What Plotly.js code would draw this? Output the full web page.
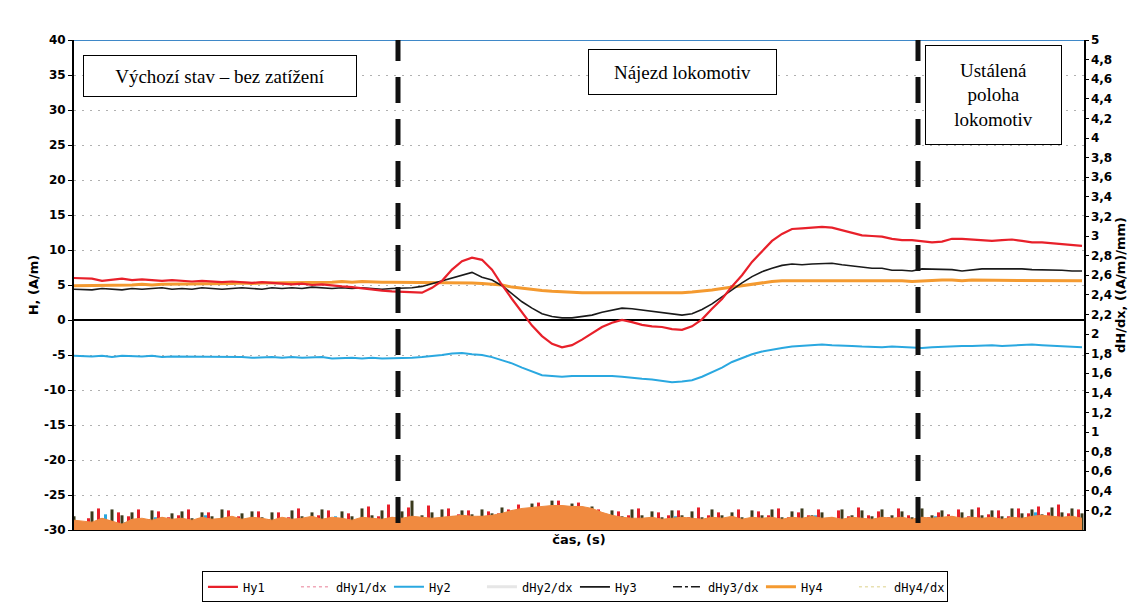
<!DOCTYPE html>
<html>
<head>
<meta charset="utf-8">
<script src="https://cdn.plot.ly/plotly-3.0.1.min.js"></script>
<style>html,body{margin:0;padding:0;background:#fff;}#chart{width:1141px;height:602px;}</style>
</head>
<body>
<div id="chart"></div>
<script>
// time axis (arbitrary units, no tick labels in the original)
const time = [-8,10,20,30,40,50,60,70,80,90,100,110,120,130,140,150,160,170,180,190,200,210,220,230,240,250,260,270,280,290,300,310,320,330,340,350,360,370,380,390,400,410,420,430,440,450,460,470,480,490,500,510,520,530,540,550,560,570,580,590,600,610,620,630,640,650,660,670,680,690,700,710,720,730,740,750,760,770,780,790,800,810,820,830,840,850,860,870,880,890,900,910,920,930,940,950,960,970,980,990,1000];

const hy1 = [6.0,5.9,5.6,5.8,5.9,5.7,5.8,5.7,5.6,5.7,5.6,5.5,5.6,5.5,5.4,5.5,5.4,5.3,5.4,5.3,5.2,5.1,5.2,5.0,5.1,4.9,4.8,4.7,4.5,4.4,4.2,
4.1,4.0,4.0,3.9,4.6,5.6,7.2,8.4,8.9,8.6,7.2,5.0,3.0,1.1,-0.8,-2.3,-3.4,-3.9,-3.6,-2.8,-1.9,-1.0,-0.4,0.0,-0.3,-0.7,-0.9,-1.0,-1.3,-1.4,-0.9,0.1,1.6,3.0,4.8,6.4,8.3,9.8,11.3,12.3,13.0,13.1,13.2,13.3,13.2,12.8,12.4,12.1,12.0,11.9,11.6,11.4,11.4,11.3,11.1,11.2,11.6,11.6,11.5,11.5,11.3,11.4,11.5,11.3,11.1,11.1,11.0,10.9,10.8,10.6];

const hy2 = [-5.1,-5.2,-5.1,-5.3,-5.1,-5.2,-5.2,-5.1,-5.3,-5.2,-5.2,-5.3,-5.2,-5.3,-5.3,-5.2,-5.3,-5.4,-5.3,-5.3,-5.4,-5.3,-5.4,-5.4,-5.3,-5.5,-5.4,-5.4,-5.5,-5.4,-5.5,
-5.5,-5.5,-5.4,-5.3,-5.2,-5.0,-4.8,-4.7,-4.9,-5.0,-5.3,-5.7,-6.2,-6.8,-7.4,-7.9,-8.0,-8.1,-8.0,-8.0,-7.9,-8.0,-8.0,-8.1,-8.3,-8.4,-8.5,-8.7,-8.9,-8.8,-8.6,-8.1,-7.5,-6.8,-6.0,-5.4,-4.9,-4.5,-4.2,-4.0,-3.8,-3.7,-3.6,-3.5,-3.6,-3.6,-3.7,-3.8,-3.9,-3.9,-3.8,-3.9,-3.9,-4.0,-3.9,-3.8,-3.8,-3.7,-3.7,-3.6,-3.6,-3.7,-3.6,-3.5,-3.5,-3.6,-3.7,-3.8,-3.8,-3.9];

const hy3 = [4.4,4.3,4.5,4.4,4.3,4.5,4.4,4.5,4.6,4.4,4.5,4.4,4.6,4.5,4.4,4.5,4.6,4.5,4.4,4.6,4.5,4.6,4.5,4.7,4.6,4.5,4.6,4.5,4.6,4.5,4.4,
4.5,4.5,4.6,4.8,5.2,5.6,6.1,6.5,6.8,6.1,5.7,4.9,3.8,2.6,1.7,0.9,0.5,0.3,0.3,0.5,0.7,1.1,1.4,1.7,1.6,1.4,1.2,1.0,0.8,0.7,0.9,1.5,2.3,3.3,4.4,5.3,6.2,6.9,7.4,7.8,8.0,7.9,8.0,8.1,8.1,7.9,7.7,7.6,7.4,7.4,7.1,7.1,7.0,7.3,7.3,7.2,7.2,7.0,7.2,7.3,7.3,7.3,7.4,7.3,7.2,7.2,7.1,7.1,7.0,7.0];

const hy4 = [4.9,4.9,5.0,4.9,5.0,5.0,5.1,5.0,5.1,5.1,5.1,5.2,5.1,5.2,5.2,5.2,5.3,5.2,5.3,5.3,5.3,5.4,5.3,5.4,5.4,5.4,5.5,5.4,5.5,5.4,5.4,
5.4,5.4,5.4,5.4,5.4,5.4,5.3,5.3,5.3,5.2,5.1,5.0,4.7,4.5,4.3,4.2,4.1,4.0,4.0,3.9,3.9,3.9,3.9,3.9,3.9,3.9,3.8,3.9,3.8,3.9,4.0,4.1,4.3,4.5,4.7,4.9,5.2,5.4,5.5,5.6,5.6,5.7,5.7,5.6,5.7,5.6,5.6,5.7,5.6,5.6,5.6,5.6,5.5,5.6,5.6,5.7,5.7,5.6,5.7,5.7,5.6,5.7,5.6,5.6,5.7,5.7,5.7,5.6,5.6,5.6];

// derivatives (right axis)
const dhy1 = [0.2,0.12,0.22,0.1,0.18,0.14,0.21,0.11,0.19,0.13,0.15,0.21,0.12,0.18,0.1,0.2,0.14,0.12,0.19,0.11,0.18,0.13,0.22,0.1,0.15,0.2,0.12,0.17,0.11,0.24,0.14,0.26,0.15,0.23,0.13,0.25,0.12,0.22,0.16,0.2,0.14,0.19,0.17,0.21,0.26,0.2,0.28,0.22,0.3,0.24,0.28,0.2,0.21,0.14,0.19,0.15,0.22,0.12,0.18,0.15,0.2,0.13,0.23,0.15,0.18,0.12,0.21,0.11,0.19,0.15,0.22,0.13,0.18,0.15,0.21,0.12,0.2,0.14,0.23,0.15,0.19,0.13,0.22,0.15,0.2,0.13,0.18,0.16,0.21,0.14,0.23,0.16,0.2,0.14,0.22,0.17,0.24,0.18,0.26,0.17,0.21];
const dhy2 = [0.03,0.06,0.16,0.04,0.08,0.03,0.05,0.13,0.04,0.06,0.03,0.05,0.15,0.04,0.03,0.07,0.04,0.12,0.03,0.05,0.04,0.08,0.03,0.06,0.04,0.14,0.03,0.05,0.04,0.07,0.03,0.06,0.04,0.12,0.03,0.05,0.04,0.08,0.03,0.06,0.05,0.13,0.06,0.1,0.08,0.16,0.09,0.11,0.08,0.1,0.07,0.12,0.05,0.07,0.04,0.08,0.03,0.06,0.04,0.14,0.03,0.05,0.04,0.07,0.03,0.13,0.04,0.05,0.03,0.08,0.04,0.06,0.03,0.15,0.04,0.05,0.03,0.07,0.04,0.06,0.03,0.12,0.04,0.05,0.03,0.14,0.04,0.06,0.03,0.05,0.04,0.12,0.03,0.06,0.04,0.18,0.03,0.05,0.04,0.07,0.04];
const dhy3 = [0.14,0.19,0.12,0.21,0.15,0.18,0.11,0.2,0.13,0.17,0.19,0.12,0.18,0.14,0.21,0.12,0.17,0.19,0.13,0.18,0.11,0.2,0.14,0.18,0.21,0.12,0.19,0.14,0.22,0.15,0.2,0.13,0.19,0.3,0.15,0.18,0.21,0.14,0.2,0.16,0.21,0.17,0.23,0.2,0.2,0.27,0.22,0.3,0.24,0.27,0.22,0.24,0.17,0.2,0.14,0.21,0.15,0.19,0.13,0.2,0.15,0.19,0.13,0.21,0.15,0.18,0.13,0.2,0.15,0.21,0.13,0.19,0.22,0.15,0.18,0.13,0.21,0.15,0.2,0.14,0.21,0.15,0.19,0.13,0.22,0.15,0.2,0.14,0.18,0.21,0.15,0.2,0.14,0.22,0.17,0.21,0.16,0.23,0.18,0.22,0.17];
const dhy4 = [0.1,0.08,0.12,0.09,0.06,0.11,0.12,0.1,0.13,0.11,0.12,0.1,0.13,0.11,0.12,0.14,0.11,0.13,0.12,0.1,0.13,0.11,0.12,0.14,0.11,0.13,0.12,0.1,0.13,0.12,0.11,0.13,0.12,0.14,0.13,0.12,0.13,0.14,0.15,0.14,0.14,0.15,0.17,0.2,0.22,0.23,0.24,0.25,0.25,0.24,0.24,0.22,0.18,0.15,0.13,0.12,0.12,0.13,0.11,0.12,0.13,0.12,0.11,0.13,0.12,0.14,0.11,0.13,0.12,0.13,0.11,0.13,0.12,0.14,0.12,0.13,0.11,0.13,0.12,0.11,0.13,0.12,0.13,0.11,0.13,0.12,0.13,0.14,0.12,0.13,0.12,0.13,0.11,0.13,0.12,0.14,0.15,0.14,0.13,0.14,0.12];

const leftTicks = [-30,-25,-20,-15,-10,-5,0,5,10,15,20,25,30,35,40];
const leftTickText = ['-30','-25','-20','-15','-10','-5','0','5','10','15','20','25','30','35','40'];
const rightTickVals = [0.2,0.4,0.6,0.8,1,1.2,1.4,1.6,1.8,2,2.2,2.4,2.6,2.8,3,3.2,3.4,3.6,3.8,4,4.2,4.4,4.6,4.8,5];
const rightTickText = ['0,2','0,4','0,6','0,8','1','1,2','1,4','1,6','1,8','2','2,2','2,4','2,6','2,8','3','3,2','3,4','3,6','3,8','4','4,2','4,4','4,6','4,8','5'];
const phaseMarks = [316, 836];
const seriesNames = ['Hy1','dHy1/dx','Hy2','dHy2/dx','Hy3','dHy3/dx','Hy4','dHy4/dx'];

const traces = [
  {type:'bar', x: time, y: dhy1, yaxis:'y2', width:3, offset:-5, marker:{color:'#e8202a', line:{width:0}}, showlegend:false},
  {type:'bar', x: time, y: dhy3, yaxis:'y2', width:3, offset:-1.5, marker:{color:'#3a3a1c', line:{width:0}}, showlegend:false},
  {type:'bar', x: time, y: dhy2, yaxis:'y2', width:3, offset:2, marker:{color:'#2aa8e0', line:{width:0}}, showlegend:false},
  {x: time, y: dhy4, yaxis:'y2', mode:'lines', fill:'tozeroy', line:{color:'#f08a40', width:1}, fillcolor:'#f08a40', showlegend:false},
  {x: time, y: hy4, name: seriesNames[6], legendrank: 7, mode:'lines', line:{color:'#f49a30', width:3}},
  {x: time, y: hy2, name: seriesNames[2], legendrank: 3, mode:'lines', line:{color:'#2aa8e0', width:2}},
  {x: time, y: hy3, name: seriesNames[4], legendrank: 5, mode:'lines', line:{color:'#1a1a1a', width:1.6}},
  {x: time, y: hy1, name: seriesNames[0], legendrank: 1, mode:'lines', line:{color:'#e8202a', width:2.2}},
  {x:[null], y:[null], name: seriesNames[1], legendrank: 2, mode:'lines', line:{color:'#f0a8b8', width:1.5, dash:'dot'}},
  {x:[null], y:[null], name: seriesNames[3], legendrank: 4, mode:'lines', line:{color:'#e6e6e6', width:3}},
  {x:[null], y:[null], name: seriesNames[5], legendrank: 6, mode:'lines', line:{color:'#1a1a1a', width:1.5, dash:'dashdot'}},
  {x:[null], y:[null], name: seriesNames[7], legendrank: 8, mode:'lines', line:{color:'#e8e0b0', width:1.5, dash:'dot'}}
];

const baseFont = {family:'DejaVu Sans, Verdana, sans-serif', size:12, color:'#000', weight:'bold'};
const boxFont = {family:'Liberation Serif, Times New Roman, serif', size:19, color:'#000'};

const layout = {
  width:1141, height:602,
  margin:{l:74, r:57, t:40, b:72, autoexpand:false},
  paper_bgcolor:'#fff', plot_bgcolor:'#fff',
  showlegend:true, barmode:'overlay',
  xaxis:{range:[-8,1002], showticklabels:false, ticks:'', showgrid:false, zeroline:false,
    showline:true, linecolor:'#000', linewidth:1,
    title:{text:'čas, (s)', font:{family:'DejaVu Sans, sans-serif', size:13, color:'#000', weight:'bold'}, standoff:4}},
  yaxis:{range:[-30,40], tickvals:leftTicks, ticktext:leftTickText, ticks:'outside', ticklen:4, tickcolor:'#000',
    tickfont:baseFont, showline:true, linecolor:'#000', linewidth:2,
    showgrid:true, gridcolor:'#b0b0b0', griddash:'2px,6px', gridwidth:1,
    zeroline:true, zerolinecolor:'#000', zerolinewidth:1.5,
    title:{text:'H, (A/m)', font:{family:'DejaVu Sans, sans-serif', size:13, color:'#000', weight:'bold'}, standoff:2}},
  yaxis2:{range:[0,5], overlaying:'y', side:'right', tickvals:rightTickVals, ticktext:rightTickText,
    ticks:'outside', ticklen:3, tickcolor:'#000', tickfont:baseFont,
    showline:true, linecolor:'#000', linewidth:1.5, showgrid:false, zeroline:false,
    title:{text:'dH/dx, ((A/m)/mm)', font:{family:'DejaVu Sans, sans-serif', size:13, color:'#000', weight:'bold'}, standoff:4}},
  legend:{orientation:'h', x:0.496, y:-0.116, xanchor:'center', yanchor:'middle',
    bordercolor:'#000', borderwidth:1, bgcolor:'#fff',
    font:{family:'DejaVu Sans Mono, monospace', size:12, color:'#000'},
    entrywidth:48, entrywidthmode:'pixels', tracegroupgap:0, itemwidth:30},
  shapes:[
    {type:'line', xref:'x', yref:'y', x0:-8, x1:1002, y0:40, y1:40, line:{color:'#3f88c8', width:2}},
    {type:'line', xref:'x', yref:'y', x0:phaseMarks[0], x1:phaseMarks[0], y0:-29, y1:40, line:{color:'#111', width:5, dash:'26px,16px'}},
    {type:'line', xref:'x', yref:'y', x0:phaseMarks[1], x1:phaseMarks[1], y0:-29, y1:40, line:{color:'#111', width:5, dash:'26px,16px'}}
  ],
  annotations:[
    {xref:'x', yref:'y', x:138, y:34.9, text:'Výchozí stav – bez zatížení', showarrow:false, font:boxFont,
      bordercolor:'#000', borderwidth:1, borderpad:2, bgcolor:'#fff', width:268, height:36},
    {xref:'x', yref:'y', x:600, y:35.4, text:'Nájezd lokomotiv', showarrow:false, font:boxFont,
      bordercolor:'#000', borderwidth:1, borderpad:2, bgcolor:'#fff', width:183, height:40},
    {xref:'x', yref:'y', x:911, y:32.1, text:'Ustálená<br>poloha<br>lokomotiv', showarrow:false, font:boxFont,
      bordercolor:'#000', borderwidth:1, borderpad:2, bgcolor:'#fff', width:131, height:94, align:'center'}
  ]
};

Plotly.newPlot('chart', traces, layout, {displayModeBar:false, staticPlot:true});
</script>
</body>
</html>
